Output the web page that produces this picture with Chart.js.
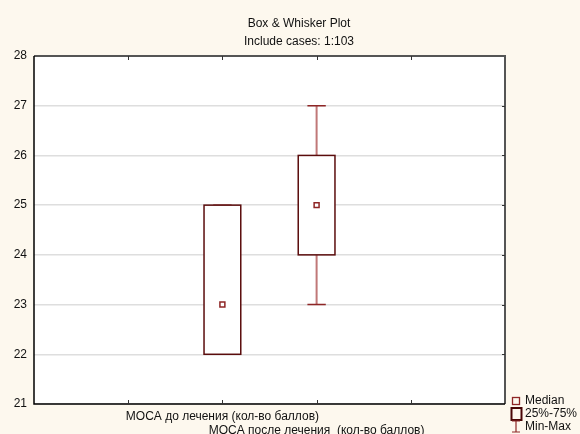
<!DOCTYPE html>
<html>
<head>
<meta charset="utf-8">
<script src="https://cdn.jsdelivr.net/npm/chart.js@4.4.1/dist/chart.umd.min.js"></script>
<style>
  html, body { margin: 0; padding: 0; background: #fdf8ee; }
  #wrap { width: 580px; height: 434px; }
</style>
</head>
<body>
<div id="wrap"><canvas id="c" width="580" height="434"></canvas></div>
<script>
// Variables shown as box plots
const categories = ['MOCA до лечения (кол-во баллов)', 'MOCA после лечения  (кол-во баллов)'];
const positions = [2, 3];            // slot of each variable on the 0..5 horizontal axis
const mins    = [22, 23];
const q1s     = [22, 24];
const medians = [23, 25];
const q3s     = [25, 26];
const maxs    = [25, 27];
const yTicks  = [21, 22, 23, 24, 25, 26, 27, 28];

const titleLines = ['Box & Whisker Plot', 'Include cases: 1:103'];
const legendItems = ['Median', '25%-75%', 'Min-Max'];

const FONT = '"Liberation Sans", Arial, sans-serif';
const BOX_W = 0.39;  // box width in axis units

const boxPlugin = {
  id: 'boxes',
  beforeDraw(chart) {
    const { ctx, chartArea: a } = chart;
    ctx.save();
    ctx.fillStyle = '#fdf8ee';
    ctx.fillRect(0, 0, chart.width, chart.height);
    ctx.fillStyle = '#ffffff';
    ctx.fillRect(a.left, a.top, a.right - a.left, a.bottom - a.top);
    ctx.restore();
  },
  beforeDatasetsDraw(chart) {
    const { ctx } = chart;
    const xs = chart.scales.x, ys = chart.scales.y;
    ctx.save();
    positions.forEach((p, i) => {
      const xc = xs.getPixelForValue(p);
      const xl = xs.getPixelForValue(p - BOX_W / 2);
      const xr = xs.getPixelForValue(p + BOX_W / 2);
      const capL = xs.getPixelForValue(p - BOX_W / 4);
      const capR = xs.getPixelForValue(p + BOX_W / 4);
      const yMin = ys.getPixelForValue(mins[i]);
      const yMax = ys.getPixelForValue(maxs[i]);
      const yQ1 = ys.getPixelForValue(q1s[i]);
      const yQ3 = ys.getPixelForValue(q3s[i]);
      // whiskers
      ctx.strokeStyle = '#c07878';
      ctx.lineWidth = 2;
      ctx.beginPath();
      ctx.moveTo(xc, yQ3); ctx.lineTo(xc, yMax);
      ctx.moveTo(xc, yQ1); ctx.lineTo(xc, yMin);
      ctx.stroke();
      ctx.strokeStyle = '#8e2626';
      ctx.lineWidth = 1.5;
      ctx.beginPath();
      ctx.moveTo(capL, yMax); ctx.lineTo(capR, yMax);
      ctx.moveTo(capL, yMin); ctx.lineTo(capR, yMin);
      ctx.stroke();
      // box
      ctx.fillStyle = '#ffffff';
      ctx.fillRect(xl, yQ3, xr - xl, yQ1 - yQ3);
      ctx.strokeStyle = '#5a0c0c';
      ctx.lineWidth = 1.5;
      ctx.strokeRect(xl, yQ3, xr - xl, yQ1 - yQ3);
    });
    ctx.restore();
  },
  afterDraw(chart) {
    const { ctx, chartArea: a } = chart;
    const xs = chart.scales.x, ys = chart.scales.y;
    ctx.save();
    // frame
    ctx.strokeStyle = '#555555';
    ctx.lineWidth = 2;
    ctx.beginPath();
    ctx.moveTo(a.left, a.top); ctx.lineTo(a.right, a.top); ctx.lineTo(a.right, a.bottom);
    ctx.stroke();
    ctx.strokeStyle = '#000000';
    ctx.lineWidth = 1.5;
    ctx.beginPath();
    ctx.moveTo(a.left, a.top); ctx.lineTo(a.left, a.bottom); ctx.lineTo(a.right, a.bottom);
    ctx.stroke();
    // inner tick marks
    ctx.lineWidth = 1;
    ctx.strokeStyle = '#333333';
    ctx.beginPath();
    for (let v = 1; v < 5; v++) {
      const x = Math.round(xs.getPixelForValue(v)) + 0.5;
      ctx.moveTo(x, a.top); ctx.lineTo(x, a.top + 4);
      ctx.moveTo(x, a.bottom); ctx.lineTo(x, a.bottom - 4);
    }
    yTicks.slice(1, -1).forEach(v => {
      const y = Math.round(ys.getPixelForValue(v)) + 0.5;
      ctx.moveTo(a.right, y); ctx.lineTo(a.right - 3, y);
    });
    ctx.stroke();
    // titles
    ctx.fillStyle = '#111111';
    ctx.font = '12px ' + FONT;
    ctx.textAlign = 'center';
    ctx.textBaseline = 'middle';
    ctx.fillText(titleLines[0], 299, 24);
    ctx.fillText(titleLines[1], 299, 42);
    // legend
    const lx = 516;
    const rows = [401, 414, 427];
    ctx.textAlign = 'left';
    ctx.fillText(legendItems[0], 525, rows[0]);
    ctx.fillText(legendItems[1], 525, rows[1]);
    ctx.fillText(legendItems[2], 525, rows[2]);
    ctx.strokeStyle = '#8e2626';
    ctx.lineWidth = 1.3;
    ctx.strokeRect(lx - 3.5, rows[0] - 3.5, 7, 7);
    ctx.strokeStyle = '#4a0606';
    ctx.lineWidth = 2;
    ctx.strokeRect(lx - 4.5, rows[1] - 6, 10, 12);
    ctx.strokeStyle = '#8e2626';
    ctx.lineWidth = 1.2;
    ctx.beginPath();
    ctx.moveTo(lx - 4, rows[2] - 6); ctx.lineTo(lx + 4, rows[2] - 6);
    ctx.moveTo(lx, rows[2] - 6); ctx.lineTo(lx, rows[2] + 5);
    ctx.moveTo(lx - 4, rows[2] + 5); ctx.lineTo(lx + 4, rows[2] + 5);
    ctx.stroke();
    ctx.restore();
  }
};

new Chart(document.getElementById('c'), {
  type: 'scatter',
  data: {
    datasets: [{
      label: 'Median',
      data: positions.map((p, i) => ({ x: p, y: medians[i] })),
      pointStyle: 'rect',
      pointRadius: 3.5,
      pointHoverRadius: 3.5,
      pointBackgroundColor: '#ffffff',
      pointBorderColor: '#8e2626',
      pointBorderWidth: 1.5
    }]
  },
  options: {
    responsive: false,
    animation: false,
    events: [],
    layout: { padding: { top: 56, right: 75, left: 0, bottom: 0 } },
    plugins: { legend: { display: false }, tooltip: { enabled: false }, title: { display: false } },
    scales: {
      x: {
        type: 'linear',
        min: 0, max: 5,
        afterFit(s) { s.height = 30; },
        afterBuildTicks(s) { s.ticks = [0, 1, 2, 3, 4, 5].map(v => ({ value: v })); },
        ticks: {
          autoSkip: false,
          maxRotation: 0,
          padding: 6,
          color: '#111111',
          font: { family: FONT, size: 12, lineHeight: '14px' },
          callback(v) {
            const i = positions.indexOf(v);
            if (i < 0) return '';
            return i === 0 ? categories[0] : ['', categories[1]];
          }
        },
        grid: { display: false, drawTicks: false, tickLength: 0 },
        border: { display: false }
      },
      y: {
        min: 21, max: 28,
        afterFit(s) { s.width = 34; },
        afterBuildTicks(s) { s.ticks = yTicks.map(v => ({ value: v })); },
        ticks: {
          padding: 7,
          color: '#111111',
          font: { family: FONT, size: 12 }
        },
        grid: { color: '#dedede', lineWidth: 1.5, drawTicks: false },
        border: { display: false }
      }
    }
  },
  plugins: [boxPlugin]
});
</script>
</body>
</html>
